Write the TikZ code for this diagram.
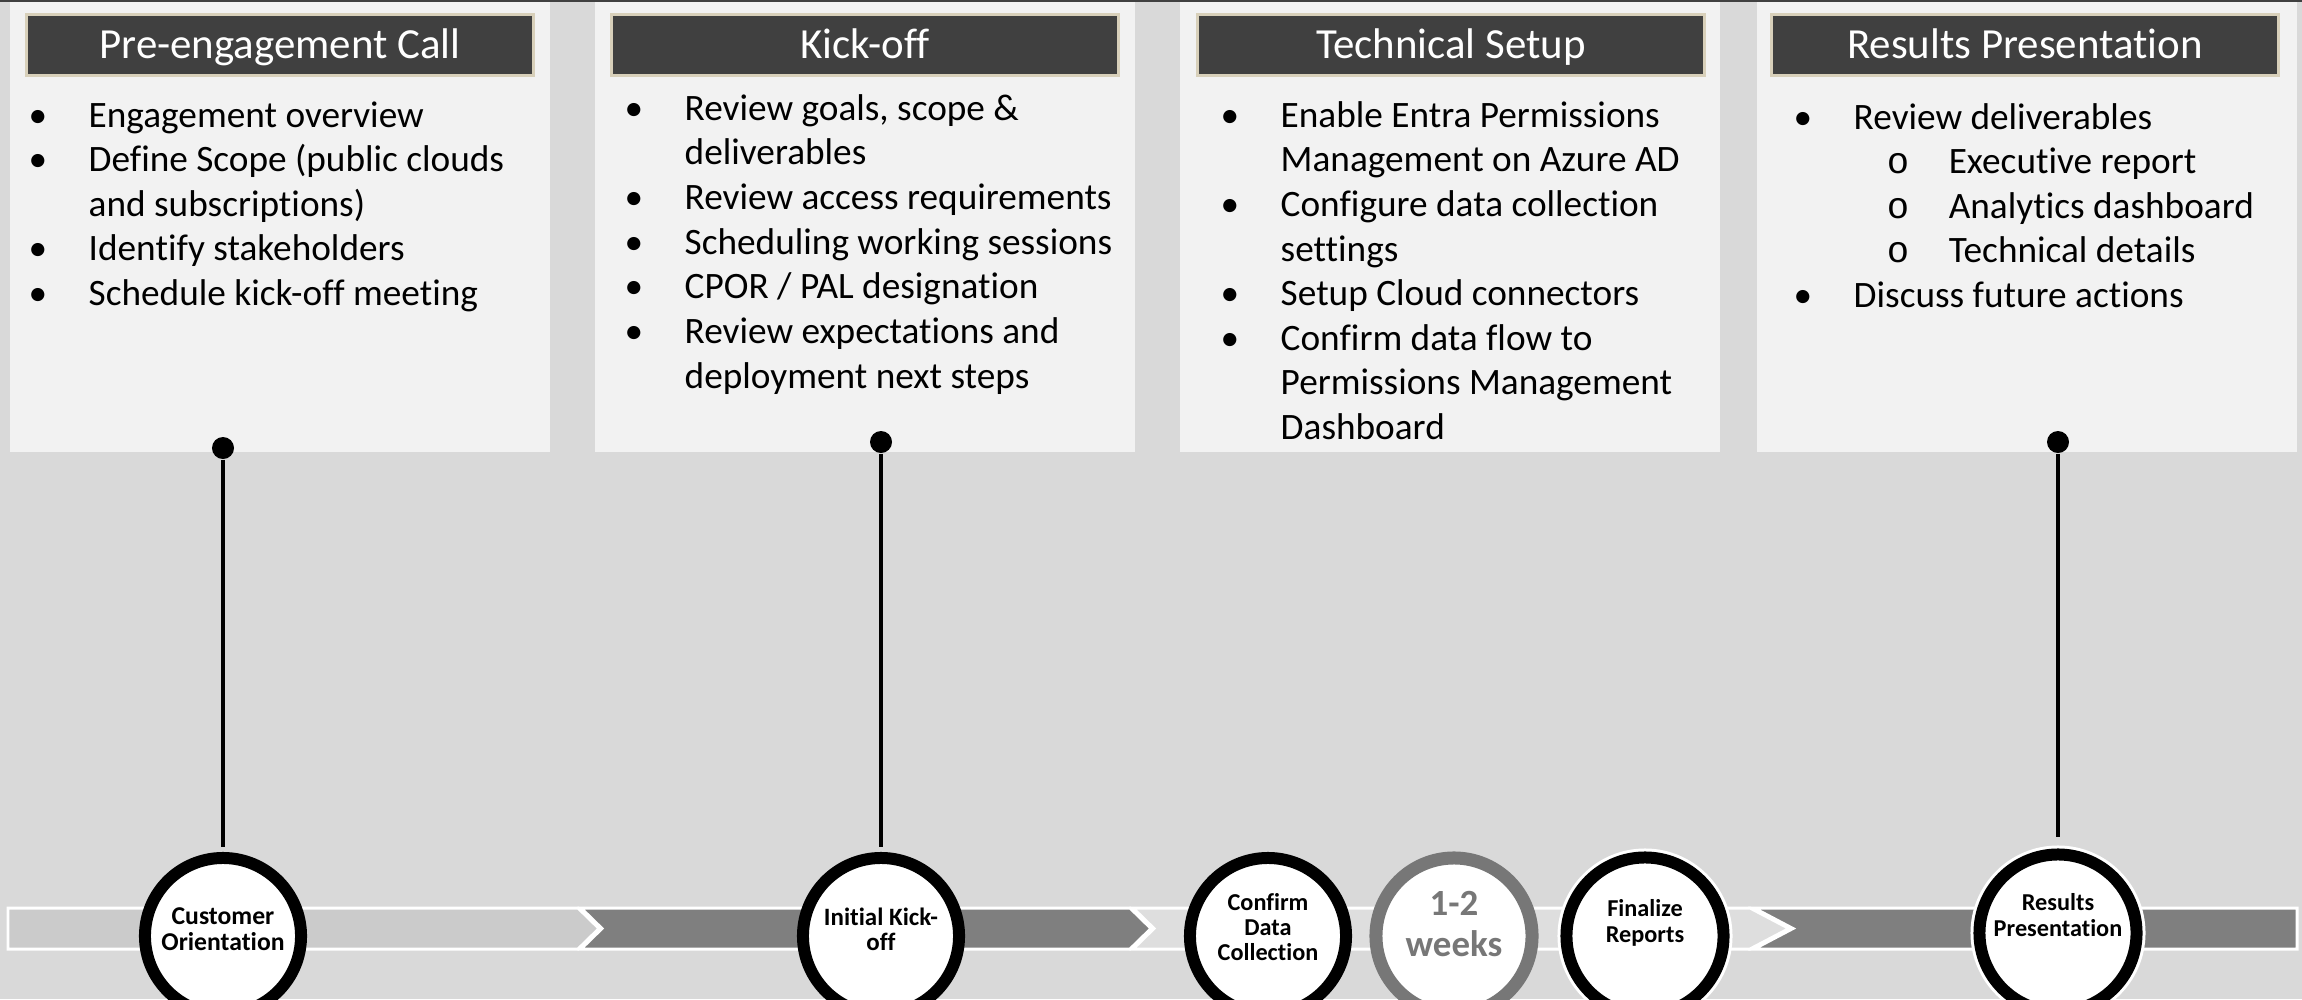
\documentclass[tikz,border=0pt]{standalone}
\usepackage{fontspec}
\setmainfont{Carlito}[Ligatures=NoCommon]
\newfontfamily\subfont{Liberation Mono}
\definecolor{bggray}{HTML}{D9D9D9}
\definecolor{cardgray}{HTML}{F2F2F2}
\definecolor{headfill}{HTML}{404040}
\definecolor{headrim}{HTML}{D8D0BA}
\definecolor{segdark}{HTML}{7F7F7F}
\definecolor{seglight}{HTML}{CBCBCB}
\definecolor{segpale}{HTML}{DEDEDE}
\definecolor{weekgray}{HTML}{777777}
\newcommand\bitem{\makebox[0.6cm][l]{\textbullet}}
\newcommand\bcont{\hspace*{0.6cm}}
\newcommand\bsub{\hspace*{0.93cm}\makebox[0.62cm][l]{\subfont o}}
\tikzset{
  headbox/.style={draw=headrim,line width=0.85pt,fill=headfill,minimum width=5.07cm,minimum height=0.61cm,inner sep=0pt,text=white,font=\fontsize{12.2}{14}\selectfont,text height=7.8pt,text depth=0pt},
  bodytext/.style={align=left,inner sep=0pt,anchor=base west,font=\fontsize{10.6}{12.69}\selectfont},
  pindot/.style={circle,fill=black,inner sep=0pt,minimum size=0.22cm},
  stem/.style={line width=1.14pt,black},
  seg/.style={draw=white,line width=0.85pt,line join=miter},
  ring/.style={circle,draw=black,line width=3.41pt,fill=white,minimum size=1.56cm,inner sep=0pt},
  ringrim/.style={circle,draw=white,double=black,double distance=3.41pt,line width=0.85pt,fill=white,minimum size=1.57cm,inner sep=0pt,outer sep=2.56pt},
  ringlabel/.style={align=center,inner sep=0pt,font=\bfseries\fontsize{6.9}{7.2}\selectfont}
}
\begin{document}
\begin{tikzpicture}[x=0.01cm,y=-0.01cm]
  \useasboundingbox[fill=bggray] (0,0) rectangle (2302,999);
  \clip (0,0) rectangle (2302,999);
  \fill[headfill] (0,0) rectangle (2302,2);
  % phase cards
  \fill[cardgray] (10,2) rectangle (550,452);
  \fill[cardgray] (595,2) rectangle (1135,452);
  \fill[cardgray] (1180,2) rectangle (1720,452);
  \fill[cardgray] (1757,2) rectangle (2297,452);
  \node[headbox] (h1) at (280,45) {Pre-engagement Call};
  \node[headbox] (h2) at (865,45) {Kick-off};
  \node[headbox] (h3) at (1451,45) {Technical Setup};
  \node[headbox] (h4) at (2025,45) {Results Presentation};
  % base anchor sits on the last line
  \node[bodytext] (b1) at (28,305.5) {\bitem Engagement overview\\\bitem Define Scope (public clouds\\\bcont and subscriptions)\\\bitem Identify stakeholders\\\bitem Schedule kick-off meeting};
  \node[bodytext] (b2) at (624,388) {\bitem Review goals, scope \&\\\bcont deliverables\\\bitem Review access requirements\\\bitem Scheduling working sessions\\\bitem CPOR / PAL designation\\\bitem Review expectations and\\\bcont deployment next steps};
  \node[bodytext] (b3) at (1220,439.5) {\bitem Enable Entra Permissions\\\bcont Management on Azure AD\\\bitem Configure data collection\\\bcont settings\\\bitem Setup Cloud connectors\\\bitem Confirm data flow to\\\bcont Permissions Management\\\bcont Dashboard};
  \node[bodytext] (b4) at (1793,307.5) {\bitem Review deliverables\\\bsub Executive report\\\bsub Analytics dashboard\\\bsub Technical details\\\bitem Discuss future actions};
  % timeline band
  \draw[seg,fill=seglight] (8,908) -- (578,908) -- (599,928.5) -- (578,949) -- (8,949) -- cycle;
  \draw[seg,fill=segdark] (581,908) -- (1130,908) -- (1151,928.5) -- (1130,949) -- (581,949) -- (602,928.5) -- cycle;
  \draw[seg,fill=segpale] (1133,908) -- (1750,908) -- (1789,928.5) -- (1750,949) -- (1133,949) -- (1154,928.5) -- cycle;
  \draw[seg,fill=segdark] (1754,908) -- (2297,908) -- (2297,949) -- (1754,949) -- (1793,928.5) -- cycle;
  % milestones
  \node[ring] (c1) at (223,936) {};
  \node[ring] (c2) at (881,936) {};
  \node[ring] (c3) at (1268,936) {};
  \node[ring,draw=weekgray,line width=3.7pt] (c4) at (1454,936) {};
  \node[ringrim] (c5) at (1645,936) {};
  \node[ringrim] (c6) at (2058,933) {};
  \node[ringlabel,font=\bfseries\fontsize{7.3}{7.2}\selectfont] (l1) at (223,929) {Customer\\Orientation};
  \node[ringlabel,font=\bfseries\fontsize{7.1}{7.2}\selectfont] (l2) at (881,929) {Initial Kick-\\off};
  \node[ringlabel] (l3) at (1268,927) {Confirm\\Data\\Collection};
  \node[ringlabel,text=weekgray,font=\bfseries\fontsize{10.5}{11.4}\selectfont] (l4) at (1454,924) {1-2\\weeks};
  \node[ringlabel] (l5) at (1645,923) {Finalize\\Reports};
  \node[ringlabel] (l6) at (2058,915) {Results\\Presentation};
  % pins
  \node[pindot] (d1) at (223,448) {};
  \node[pindot] (d2) at (881,442) {};
  \node[pindot] (d4) at (2058,442) {};
  \draw[stem,shorten >=0.05cm] (d1) -- (c1);
  \draw[stem,shorten >=0.05cm] (d2) -- (c2);
  \draw[stem,shorten >=0.085cm] (d4) -- (c6);
\end{tikzpicture}
\end{document}
